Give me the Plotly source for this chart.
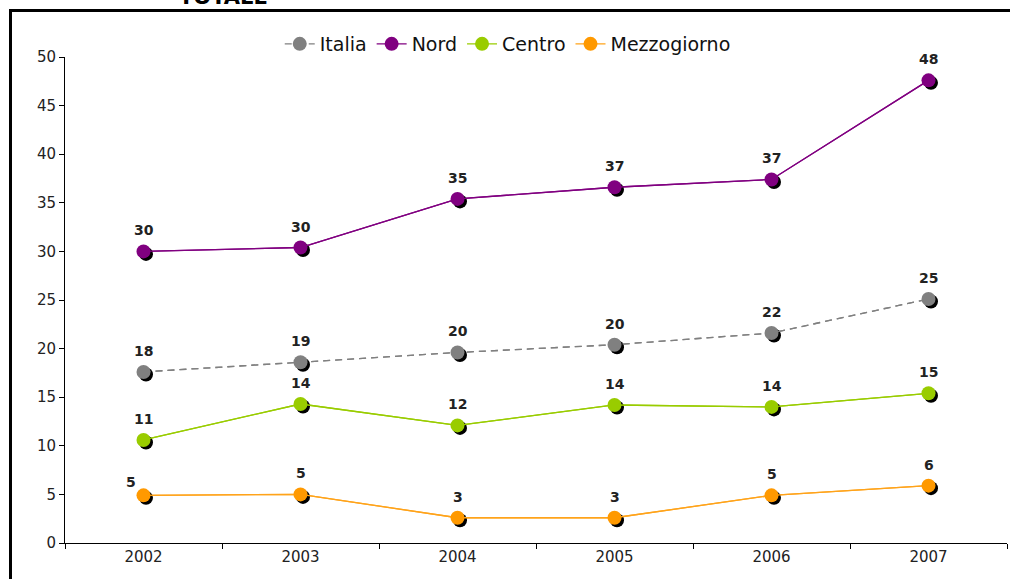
import plotly.graph_objects as go

years = ["2002", "2003", "2004", "2005", "2006", "2007"]
italia = [17.6, 18.6, 19.6, 20.4, 21.6, 25.1]
nord = [30.0, 30.4, 35.4, 36.6, 37.4, 47.6]
centro = [10.6, 14.3, 12.1, 14.2, 14.0, 15.4]
mezzogiorno = [4.9, 5.0, 2.6, 2.6, 4.9, 5.9]
y_ticks = [0, 5, 10, 15, 20, 25, 30, 35, 40, 45, 50]

series = [
    ("Italia", italia, "#808080", "#808080", "7px,5px"),
    ("Nord", nord, "#800080", "#800080", "solid"),
    ("Centro", centro, "#99CC00", "#99CC00", "solid"),
    ("Mezzogiorno", mezzogiorno, "#FFA31A", "#FF9900", "solid"),
]

W, H = 1010, 579
ml, mr, mt, mb = 65, 3, 57, 36
pw = W - ml - mr
ph = H - mt - mb
ymax = 50
px_per_unit = ph / ymax
px_per_cat = pw / len(years)
dx, dy = 2.5, 2.5

fig = go.Figure()

# base lines on main axes
for name, vals, lc, mc, dash in series:
    fig.add_trace(go.Scatter(x=years, y=vals, mode="lines",
                             line=dict(color=lc, width=1.3, dash=dash),
                             showlegend=False, hoverinfo="skip",
                             xaxis="x", yaxis="y"))
# shadows
for name, vals, lc, mc, dash in series:
    fig.add_trace(go.Scatter(x=years, y=vals, mode="markers",
                             marker=dict(color="black", size=14),
                             showlegend=False, hoverinfo="skip",
                             xaxis="x2", yaxis="y2"))
# main markers and value labels
for name, vals, lc, mc, dash in series:
    fig.add_trace(go.Scatter(x=years, y=vals, mode="lines+markers",
                             name=name,
                             line=dict(color=lc, width=1.3, dash=dash),
                             marker=dict(color=mc, size=14),
                             xaxis="x3", yaxis="y3"))
    for i, v in enumerate(vals):
        xs, ys = 0, 21
        if name == "Mezzogiorno" and i == 0:
            xs, ys = -13, 13
        fig.add_annotation(x=i, y=v, xref="x", yref="y", text=f"<b>{v:.0f}</b>",
                           showarrow=False, xshift=xs, yshift=ys,
                           font=dict(family="DejaVu Sans", size=14, color="#222222"))

hidden = dict(visible=False, showgrid=False, zeroline=False)
fig.update_layout(
    width=W, height=H,
    margin=dict(l=ml, r=mr, t=mt, b=mb),
    paper_bgcolor="white", plot_bgcolor="white",
    showlegend=True,
    legend=dict(orientation="h", x=0.47, xanchor="center", y=1.0 + (mt - 44) / ph,
                yanchor="middle", font=dict(family="DejaVu Sans", size=19, color="#111111"),
                itemwidth=30, tracegroupgap=0, bgcolor="rgba(0,0,0,0)"),
    xaxis=dict(type="category", categoryorder="array", categoryarray=years,
               range=[-0.5, len(years) - 0.5], showline=True, linecolor="black",
               linewidth=1, ticks="outside", ticklen=5, tickcolor="black",
               tickson="boundaries", showgrid=False, zeroline=False,
               tickfont=dict(family="DejaVu Sans", size=15, color="#222222")),
    yaxis=dict(range=[0, ymax], tickvals=y_ticks, showline=True, linecolor="black",
               linewidth=1, ticks="outside", ticklen=5, tickcolor="black",
               showgrid=False, zeroline=False,
               tickfont=dict(family="DejaVu Sans", size=15, color="#222222")),
    xaxis2=dict(type="category", categoryorder="array", categoryarray=years,
                range=[-0.5 - dx / px_per_cat, len(years) - 0.5 - dx / px_per_cat],
                overlaying="x", **hidden),
    yaxis2=dict(range=[dy / px_per_unit, ymax + dy / px_per_unit], overlaying="y", **hidden),
    xaxis3=dict(type="category", categoryorder="array", categoryarray=years,
                range=[-0.5, len(years) - 0.5], overlaying="x", **hidden),
    yaxis3=dict(range=[0, ymax], overlaying="y", **hidden),
)

# outer frame
fx0 = (10.5 - ml) / pw
fy1 = (H - mb - 10.5) / ph
fig.add_shape(type="rect", xref="paper", yref="paper",
              x0=fx0, x1=(W + 20 - ml) / pw, y0=-0.3, y1=fy1,
              line=dict(color="black", width=3), fillcolor="rgba(0,0,0,0)", layer="below")

fig.add_annotation(text="<b>TOTALE</b>", xref="paper", yref="paper",
                   x=(223 - ml) / pw, y=(H - mb - 11) / ph, xanchor="center", yanchor="bottom",
                   showarrow=False, font=dict(family="DejaVu Sans", size=21, color="black"))

fig.write_html("out.html", config={"displayModeBar": False},
               post_script="document.body.style.margin='0';document.body.style.padding='0';")
